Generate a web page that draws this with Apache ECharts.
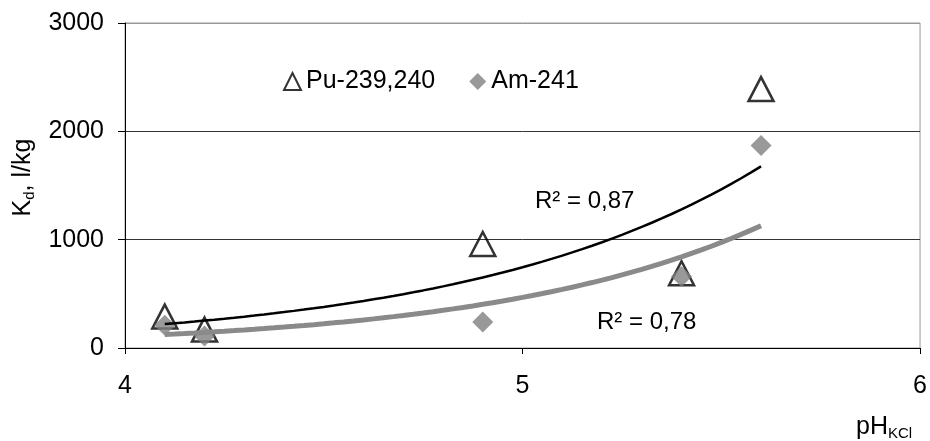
<!DOCTYPE html>
<html>
<head>
<meta charset="utf-8">
<script src="https://cdn.jsdelivr.net/npm/echarts@6/dist/echarts.min.js"></script>
<style>
html,body{margin:0;padding:0;background:#fff}
#main{width:930px;height:441px}
</style>
</head>
<body>
<div id="main"></div>
<script>
var phValues = [4.1, 4.2, 4.9, 5.4, 5.6];
var puValues = [290, 170, 960, 690, 2390];
var amValues = [210, 110, 240, 660, 1870];
var xTicks = [4, 5, 6];
var yTicks = [0, 1000, 2000, 3000];
var r2Pu = '0,87';
var r2Am = '0,78';

var fontName = '"Liberation Sans", Arial, sans-serif';
var fontSize = 25;

// exponential trendline like excel: y = a*exp(b*x), least squares on ln(y)
function expFit(xs, ys){
	var n = xs.length, sx = 0, sy = 0, sxx = 0, sxy = 0;
	for (var i = 0; i < n; i++) {
		var ly = Math.log(ys[i]);
		sx += xs[i]; sy += ly; sxx += xs[i]*xs[i]; sxy += xs[i]*ly;
	}
	var b = (n*sxy - sx*sy) / (n*sxx - sx*sx);
	var a = Math.exp((sy - b*sx) / n);
	return {a: a, b: b};
}
function trendPoints(xs, ys){
	var fit = expFit(xs, ys);
	var lo = Math.min.apply(null, xs), hi = Math.max.apply(null, xs);
	var pts = [];
	for (var i = 0; i <= 60; i++) {
		var x = lo + (hi - lo) * i / 60;
		pts.push([x, fit.a * Math.exp(fit.b * x)]);
	}
	return pts;
}
function pairs(xs, ys){
	return xs.map(function(x, i){ return [x, ys[i]]; });
}

var subRich = {
	a: {fontFamily: fontName, fontSize: fontSize, lineHeight: 28, color: '#000', fill: '#000'},
	s: {fontFamily: fontName, fontSize: 15, lineHeight: 15, padding: [14, 0, 0, 0], color: '#000', fill: '#000', verticalAlign: 'bottom'}
};

var myChart = echarts.init(document.getElementById('main'));
var option = {
	animation: false,
	backgroundColor: '#fff',
	textStyle: {fontFamily: fontName},
	grid: {
		left: 124, right: 9, top: 23, bottom: 93,
		show: true, borderColor: '#999', borderWidth: 1
	},
	legend: {
		data: ['Pu-239,240', 'Am-241'],
		left: 278, top: 64,
		itemWidth: 17, itemHeight: 17, itemGap: 34,
		textStyle: {fontFamily: fontName, fontSize: fontSize, color: '#000'}
	},
	xAxis: {
		type: 'value',
		min: xTicks[0], max: xTicks[xTicks.length - 1], interval: 1,
		axisLine: {lineStyle: {color: '#000', width: 1}},
		axisTick: {show: true, inside: false, length: 6, lineStyle: {color: '#000'}},
		axisLabel: {fontFamily: fontName, fontSize: fontSize, color: '#000', margin: 26,
			formatter: function(v){ return xTicks.indexOf(v) >= 0 ? String(v) : ''; }},
		splitLine: {show: false}
	},
	yAxis: {
		type: 'value',
		min: yTicks[0], max: yTicks[yTicks.length - 1], interval: 1000,
		name: '{a|K}{s|d}{a|, l/kg}',
		nameLocation: 'middle',
		nameGap: 88,
		nameTextStyle: {padding: [0, 0, 0, 16], rich: subRich},
		axisLine: {show: true, lineStyle: {color: '#000', width: 1}},
		axisTick: {show: true, inside: false, length: 7, lineStyle: {color: '#000'}},
		axisLabel: {fontFamily: fontName, fontSize: fontSize, color: '#000', margin: 21,
			formatter: function(v){ return String(v); }},
		splitLine: {show: true, lineStyle: {color: ['#000', '#333', '#333', '#999'], width: 1}}
	},
	series: [
		{
			name: 'Pu-239,240',
			type: 'scatter',
			symbol: 'triangle',
			symbolSize: [25, 24],
			z: 2,
			itemStyle: {color: 'rgba(255,255,255,0)', borderColor: '#000', borderWidth: 2.5},
			data: pairs(phValues, puValues)
		},
		{
			name: 'Am-241',
			type: 'scatter',
			symbol: 'diamond',
			symbolSize: [21, 21],
			z: 3,
			itemStyle: {color: '#808080'},
			data: pairs(phValues, amValues)
		},
		{
			name: 'Am trend',
			type: 'line',
			showSymbol: false,
			silent: true,
			z: 4,
			lineStyle: {color: '#8a8a8a', width: 5},
			data: trendPoints(phValues, amValues)
		},
		{
			name: 'Pu trend',
			type: 'line',
			showSymbol: false,
			silent: true,
			z: 5,
			lineStyle: {color: '#000', width: 2.5},
			data: trendPoints(phValues, puValues)
		}
	],
	graphic: [
		{
			type: 'text', left: 535, top: 189,
			style: {text: 'R² = ' + r2Pu, font: '24px ' + fontName, fill: '#000'}
		},
		{
			type: 'text', left: 597, top: 310,
			style: {text: 'R² = ' + r2Am, font: '24px ' + fontName, fill: '#000'}
		},
		{
			type: 'text', left: 856, top: 412,
			style: {text: '{a|pH}{s|KCl}', rich: subRich}
		}
	]
};
myChart.setOption(option);
</script>
</body>
</html>
